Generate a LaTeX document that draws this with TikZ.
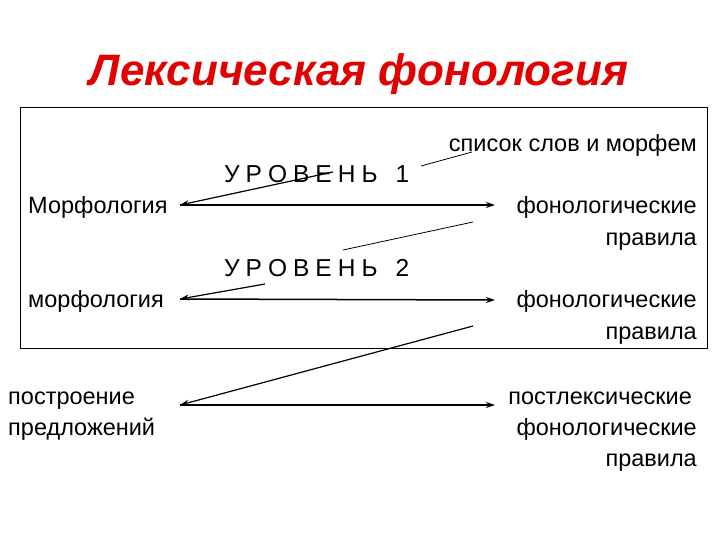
\documentclass[tikz,border=0pt]{standalone}
\usepackage{fontspec}
\setmainfont{Liberation Sans}
\usetikzlibrary{arrows.meta}
\definecolor{titlered}{RGB}{226,0,0}
\newcommand{\lk}{\kern6pt}
\tikzset{
  txt/.style={inner sep=0pt, font=\fontsize{23.5}{28}\selectfont},
  lvl/.style={inner sep=0pt, font=\fontsize{24.5}{30}\selectfont},
  thinline/.style={line width=0.8pt},
  arr/.style={line width=1.5pt, -{Stealth[length=9pt,width=6pt]}},
  diag/.style={line width=1.2pt, -{Stealth[length=9pt,width=6pt]}},
}
\begin{document}
\begin{tikzpicture}[x=1pt,y=-1pt]
\useasboundingbox (0,0) rectangle (720,540);
\node[inner sep=0pt, text=titlered, font=\fontsize{44}{50}\selectfont\bfseries\itshape] (title) at (359,74) {Лексическая фонология};
\draw[line width=1pt] (20,108) rectangle (707,348);
\node[txt, anchor=base east] (spisok) at (697,152) {список слов и морфем};
\node[lvl, anchor=base west] (lvl1) at (224,183) {У\lk Р\lk О\lk В\lk Е\lk Н\lk Ь\kern18pt 1};
\node[txt, anchor=base west] (morf1) at (28,214) {Морфология};
\node[txt, anchor=base east] (fon1a) at (697,214) {фонологические};
\node[txt, anchor=base east] (fon1b) at (697,245) {правила};
\node[lvl, anchor=base west] (lvl2) at (224,276) {У\lk Р\lk О\lk В\lk Е\lk Н\lk Ь\kern18pt 2};
\node[txt, anchor=base west] (morf2) at (28,307) {морфология};
\node[txt, anchor=base east] (fon2a) at (697,307) {фонологические};
\node[txt, anchor=base east] (fon2b) at (697,339) {правила};
\node[txt, anchor=base west] (post) at (8,404) {построение};
\node[txt, anchor=base west] (pred) at (8,435) {предложений};
\node[txt, anchor=base east] (postlex) at (692,404) {постлексические};
\node[txt, anchor=base east] (fon3a) at (697,435) {фонологические};
\node[txt, anchor=base east] (fon3b) at (697,466) {правила};
% connector end points
\coordinate (s1) at (472,152);
\coordinate (s2) at (421,166);
\coordinate (u1) at (333,172);
\coordinate (m1) at (180,205);
\coordinate (f1) at (495,205);
\coordinate (r1) at (473,222);
\coordinate (r2) at (343,250);
\coordinate (u2) at (265,284);
\coordinate (m2) at (180,299);
\coordinate (f2) at (495,300);
\coordinate (r3) at (473,326);
\coordinate (p1) at (180,405);
\coordinate (f3) at (495,405);
\draw[thinline] (s1) -- (s2);
\draw[diag] (u1) -- (m1);
\draw[arr] (m1) -- (f1);
\draw[thinline] (r1) -- (r2);
\draw[diag] (u2) -- (m2);
\draw[arr] (m2) -- (f2);
\draw[diag] (r3) -- (p1);
\draw[arr] (p1) -- (f3);
\end{tikzpicture}
\end{document}
